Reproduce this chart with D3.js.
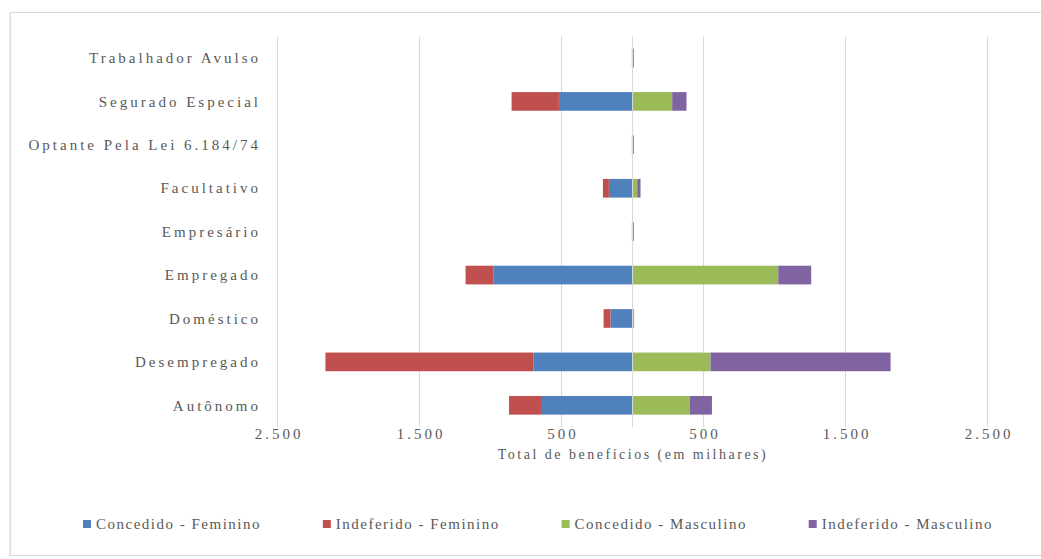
<!DOCTYPE html>
<html>
<head>
<meta charset="utf-8">
<script src="https://cdn.jsdelivr.net/npm/d3@7"></script>
<style>
  html, body { margin: 0; padding: 0; background: #ffffff; }
  svg { display: block; }
  text { font-family: "Liberation Serif", "DejaVu Serif", serif; fill: #595959; }
</style>
</head>
<body>
<svg id="chart" width="1041" height="559"></svg>
<script>
// Categorias (de cima para baixo) e valores em milhares de benefícios
const categories = [
  "Trabalhador Avulso",
  "Segurado Especial",
  "Optante Pela Lei 6.184/74",
  "Facultativo",
  "Empresário",
  "Empregado",
  "Doméstico",
  "Desempregado",
  "Autônomo"
];
const concedidoFeminino  = [1, 515, 1, 163, 1, 977, 151, 694, 641];
const indeferidoFeminino = [0, 333, 0, 42, 0, 195, 49, 1465, 225];
const concedidoMasculino = [9, 283, 9, 37, 9, 1030, 15, 553, 408];
const indeferidoMasculino = [5, 101, 5, 23, 5, 232, 0, 1268, 155];
const tickValues = [-2500, -1500, -500, 500, 1500, 2500];

const seriesNames = ["Concedido - Feminino", "Indeferido - Feminino", "Concedido - Masculino", "Indeferido - Masculino"];
const seriesColors = ["#4F81BD", "#C0504D", "#9BBB59", "#8064A2"];

const svg = d3.select("#chart");

// moldura do gráfico
svg.append("rect")
  .attr("x", 10.5).attr("y", 12.5)
  .attr("width", 1070).attr("height", 543)
  .attr("fill", "#ffffff")
  .attr("stroke", "#D9D9D9").attr("stroke-width", 1);
svg.append("line")
  .attr("x1", 9.5).attr("x2", 9.5).attr("y1", 13).attr("y2", 556)
  .attr("stroke", "#EDEDED").attr("stroke-width", 1);

const plot = { left: 277, right: 987, top: 36.3, bottom: 427 };

const x = d3.scaleLinear().domain([-2500, 2500]).range([plot.left, plot.right]);
const y = d3.scaleBand().domain(categories).range([plot.top, plot.bottom])
  .paddingInner(0.57).paddingOuter(0.285);

const ptBR = d3.formatLocale({ decimal: ",", thousands: ".", grouping: [3], currency: ["R$", ""] });
const fmt = ptBR.format(",");

// linhas de grade verticais
svg.append("g")
  .selectAll("line")
  .data(tickValues)
  .join("line")
  .attr("x1", d => Math.round(x(d)) + 0.5)
  .attr("x2", d => Math.round(x(d)) + 0.5)
  .attr("y1", plot.top)
  .attr("y2", plot.bottom)
  .attr("stroke", "#D9D9D9")
  .attr("stroke-width", 1);

// eixo de valores (rótulos em valor absoluto)
const xAxis = d3.axisBottom(x)
  .tickValues(tickValues)
  .tickFormat(d => fmt(Math.abs(d)))
  .tickSize(0)
  .tickPadding(0);
const gx = svg.append("g")
  .attr("transform", `translate(1.5,${plot.bottom + 1})`)
  .call(xAxis);
gx.select(".domain").remove();
gx.selectAll("text")
  .attr("font-size", 15)
  .attr("letter-spacing", "3px")
  .attr("fill", "#595959")
  .attr("font-family", "Liberation Serif, serif");

// empilhamento divergente: feminino à esquerda, masculino à direita
const rows = categories.map((c, i) => {
  const segs = [];
  let left = 0;
  [[0, concedidoFeminino[i]], [1, indeferidoFeminino[i]]].forEach(([s, v]) => {
    segs.push({ cat: c, s, x0: left - v, x1: left });
    left -= v;
  });
  let right = 0;
  [[2, concedidoMasculino[i]], [3, indeferidoMasculino[i]]].forEach(([s, v]) => {
    segs.push({ cat: c, s, x0: right, x1: right + v });
    right += v;
  });
  return segs;
}).flat();

svg.append("g")
  .selectAll("rect")
  .data(rows)
  .join("rect")
  .attr("x", d => x(d.x0))
  .attr("width", d => Math.max(0, x(d.x1) - x(d.x0)))
  .attr("y", d => y(d.cat))
  .attr("height", y.bandwidth())
  .attr("fill", d => seriesColors[d.s]);

// eixo das categorias em zero
svg.append("line")
  .attr("x1", Math.round(x(0)) + 0.5).attr("x2", Math.round(x(0)) + 0.5)
  .attr("y1", plot.top).attr("y2", plot.bottom)
  .attr("stroke", "#D9D9D9").attr("stroke-width", 1);

// rótulos das categorias
svg.append("g")
  .selectAll("text")
  .data(categories)
  .join("text")
  .attr("x", 261)
  .attr("y", d => y(d) + y.bandwidth() / 2)
  .attr("dy", "0.35em")
  .attr("text-anchor", "end")
  .attr("font-size", 15)
  .attr("letter-spacing", "3px")
  .text(d => d);

// título do eixo
svg.append("text")
  .attr("x", x(0) + 1)
  .attr("y", plot.bottom + 27)
  .attr("dy", "0.35em")
  .attr("text-anchor", "middle")
  .attr("font-size", 14)
  .attr("letter-spacing", "2.5px")
  .text("Total de benefícios (em milhares)");

// legenda: itens distribuídos entre as margens da legenda
const legendLeft = 83, legendRight = 993;
const legend = svg.append("g");
const items = legend.selectAll("g")
  .data(seriesNames)
  .join("g");
items.append("rect")
  .attr("width", 8).attr("height", 8)
  .attr("y", -4)
  .attr("fill", (d, i) => seriesColors[i]);
items.append("text")
  .attr("x", 13)
  .attr("dy", "0.35em")
  .attr("font-size", 15)
  .attr("letter-spacing", "1.5px")
  .text(d => d);

const widths = [];
items.each(function () { widths.push(13 + this.querySelector("text").getComputedTextLength()); });
const gap = (legendRight - legendLeft - d3.sum(widths)) / (widths.length - 1);
let cx = legendLeft;
items.attr("transform", (d, i) => {
  const t = `translate(${cx},${plot.bottom + 97})`;
  cx += widths[i] + gap;
  return t;
});
</script>
</body>
</html>
